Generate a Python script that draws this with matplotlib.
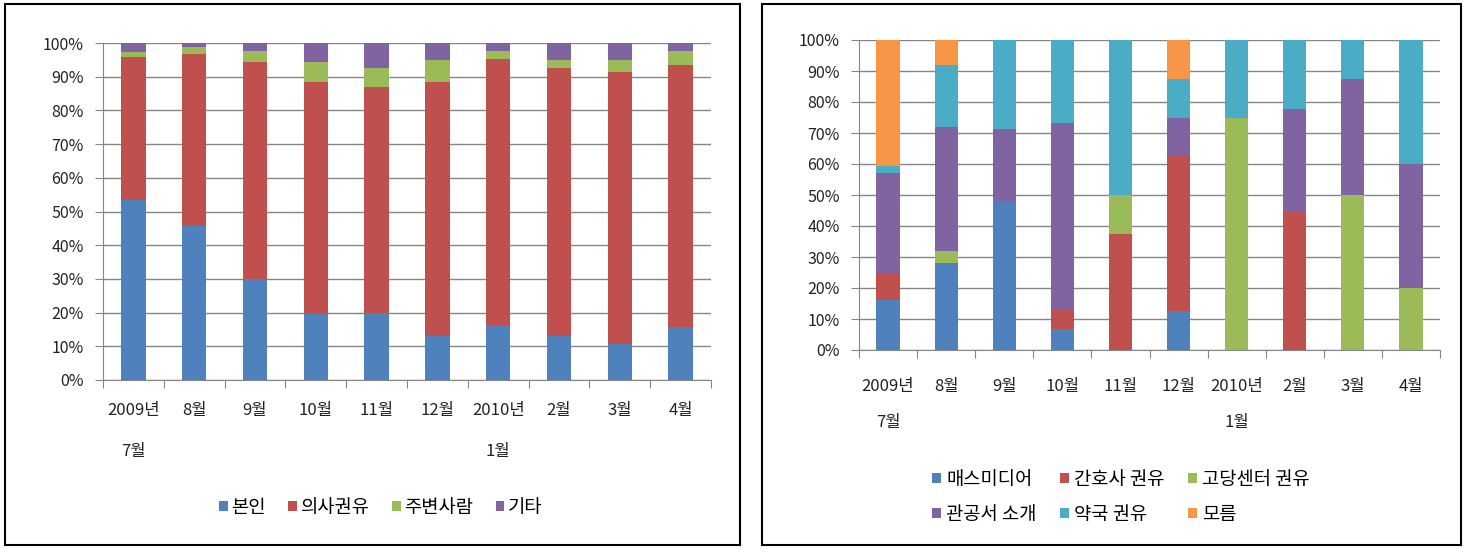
import numpy as np
import matplotlib.pyplot as plt
from matplotlib.patches import Rectangle

plt.rcParams['font.family'] = ['Noto Sans CJK KR', 'DejaVu Sans']

months = ['2009년\n7월', '8월', '9월', '10월', '11월', '12월', '2010년\n1월', '2월', '3월', '4월']

# left chart (%)
left_names = ['본인', '의사권유', '주변사람', '기타']
self_pct = [53.4, 45.8, 30.1, 19.7, 19.9, 13.0, 16.3, 13.0, 10.8, 15.8]
doctor_pct = [42.4, 50.8, 64.2, 68.6, 67.0, 75.3, 78.9, 79.5, 80.5, 77.7]
people_pct = [1.6, 2.2, 3.3, 6.0, 5.8, 6.7, 2.4, 2.5, 3.7, 4.1]
other_pct = [2.6, 1.2, 2.4, 5.7, 7.3, 5.0, 2.4, 5.0, 5.0, 2.4]

# right chart (%)
right_names = ['매스미디어', '간호사 권유', '고당센터 권유', '관공서 소개', '약국 권유', '모름']
media_pct = [16.0, 28.0, 48.2, 6.7, 0, 12.5, 0, 0, 0, 0]
nurse_pct = [9.0, 0, 0, 6.6, 37.5, 50.0, 0, 44.4, 0, 0]
center_pct = [0, 4.0, 0, 0, 12.5, 0, 75.0, 0, 50.0, 20.0]
office_pct = [32.0, 40.0, 23.1, 60.0, 0, 12.5, 0, 33.4, 37.5, 40.0]
pharm_pct = [2.5, 20.0, 28.7, 26.7, 50.0, 12.5, 25.0, 22.2, 12.5, 40.0]
unknown_pct = [40.5, 8.0, 0, 0, 0, 12.5, 0, 0, 0, 0]

blue, red, green, purple, aqua, orange = '#4F81BD', '#C0504D', '#9BBB59', '#8064A2', '#4BACC6', '#F79646'

fig = plt.figure(figsize=(14.68, 5.52), dpi=100)

# panel borders
for x0, x1 in [(5, 740), (762, 1461)]:
    fig.patches.append(Rectangle((x0 / 1468, 1 - 545 / 552), (x1 - x0) / 1468, (545 - 4) / 552,
                                 transform=fig.transFigure, fill=False, edgecolor='black', lw=1.5))


def style_axes(ax, pad, spacing):
    x = np.arange(len(months))
    ax.set_xlim(-0.5, len(months) - 0.5)
    ax.set_ylim(0, 100)
    ax.set_yticks(np.arange(0, 101, 10))
    ax.set_yticklabels([f'{v}%' for v in range(0, 101, 10)], fontsize=11.5, color='#222222')
    ax.set_xticks(np.arange(-0.5, len(months)), labels=[''] * (len(months) + 1))
    ax.set_xticks(x, minor=True)
    ax.set_xticklabels(months, minor=True, fontsize=12, linespacing=spacing, color='#222222')
    ax.tick_params(axis='x', which='minor', length=0, pad=pad)
    ax.tick_params(axis='x', which='major', length=6, color='#868686', direction='out')
    ax.tick_params(axis='y', length=6, color='#868686', direction='out', pad=8)
    ax.grid(axis='y', color='#868686', lw=1)
    ax.set_axisbelow(True)
    for s in ['top', 'right']:
        ax.spines[s].set_visible(False)
    for s in ['left', 'bottom']:
        ax.spines[s].set_color('#868686')


x = np.arange(len(months))

# left chart
ax1 = fig.add_axes([103 / 1468, 1 - 380 / 552, (711 - 103) / 1468, (380 - 43) / 552])
bottom = np.zeros(len(months))
handles = []
for vals, col, name in zip([self_pct, doctor_pct, people_pct, other_pct], [blue, red, green, purple], left_names):
    h = ax1.bar(x, vals, 0.4, bottom=bottom, color=col, label=name, zorder=3)
    handles.append(h)
    bottom += np.array(vals)
style_axes(ax1, 16, 2.8)
ax1.legend(handles=handles, loc='center', bbox_to_anchor=(0.457, -0.377), ncol=4, frameon=False,
           fontsize=13.5, handlelength=0.45, handleheight=0.45, handletextpad=0.2, columnspacing=1.2,
           borderpad=0, borderaxespad=0)

# right chart
ax2 = fig.add_axes([859 / 1468, 1 - 350 / 552, (1440 - 859) / 1468, (350 - 40) / 552])
bottom = np.zeros(len(months))
handles = []
for vals, col, name in zip([media_pct, nurse_pct, center_pct, office_pct, pharm_pct, unknown_pct],
                           [blue, red, green, purple, aqua, orange], right_names):
    h = ax2.bar(x, vals, 0.4, bottom=bottom, color=col, label=name, zorder=3)
    handles.append(h)
    bottom += np.array(vals)
style_axes(ax2, 20, 2.45)
order = [0, 3, 1, 4, 2, 5]
ax2.legend(handles=[handles[i] for i in order], loc='upper left', bbox_to_anchor=(0.126, -0.383), ncol=3,
           frameon=False, fontsize=13.5, handlelength=0.45, handleheight=0.45, handletextpad=0.3,
           columnspacing=1.25, labelspacing=0.75, borderpad=0, borderaxespad=0)

fig.savefig('out.png', dpi=100)
